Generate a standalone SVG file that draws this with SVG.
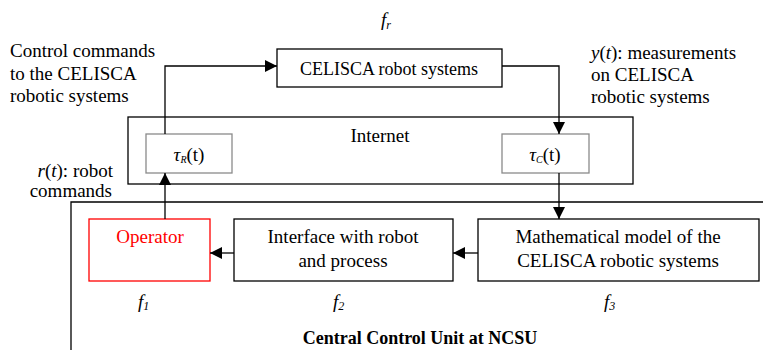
<svg xmlns="http://www.w3.org/2000/svg" width="763" height="350" viewBox="0 0 763 350">
<defs>
<marker id="ah" markerWidth="12" markerHeight="12" viewBox="0 0 12 12" refX="12" refY="6" orient="auto" markerUnits="userSpaceOnUse">
<path d="M0,0 L12,6 L0,12 Z" fill="#000"/>
</marker>
</defs>
<style>
text{font-family:Liberation Serif,Tinos,Times New Roman,DejaVu Serif,serif;font-size:19px;fill:#000}
.c{text-anchor:middle}
.i{font-style:italic}
.box{fill:#fff;stroke:#000;stroke-width:1.3}
.gbox{fill:#fff;stroke:#8a8a8a;stroke-width:1.3}
.ln{fill:none;stroke:#000;stroke-width:1.3}
</style>
<g id="central-control-unit">
<path class="ln" d="M71,350 V202 H763"/>
<text x="420" y="344" class="c" style="font-weight:bold;font-size:18px">Central Control Unit at NCSU</text>
</g>
<g id="internet">
<rect class="box" x="128" y="117" width="505" height="67"/>
<text x="380" y="142" class="c">Internet</text>
</g>
<g id="celisca">
<rect class="box" x="277" y="49" width="225" height="38"/>
<text x="389" y="75" class="c" style="font-size:18px">CELISCA robot systems</text>
<text x="381" y="26" class="i">f<tspan font-size="12" dy="3">r</tspan></text>
</g>
<g id="tau-r">
<rect class="gbox" x="146" y="134" width="86" height="39"/>
<text x="189" y="161" class="c"><tspan class="i">τ</tspan><tspan class="i" font-size="10" dy="2">R</tspan><tspan dy="-2">(t)</tspan></text>
</g>
<g id="tau-c">
<rect class="gbox" x="502" y="134" width="87" height="39"/>
<text x="545" y="161" class="c"><tspan class="i">τ</tspan><tspan class="i" font-size="10" dy="2">C</tspan><tspan dy="-2">(t)</tspan></text>
</g>
<g id="operator">
<rect x="89" y="219" width="121" height="62" fill="#fff" stroke="#ff0000" stroke-width="1.3"/>
<text x="150" y="243" class="c" style="fill:#ff0000">Operator</text>
<text x="138" y="308" class="i">f<tspan font-size="12" dy="2">1</tspan></text>
</g>
<g id="interface">
<rect class="box" x="234" y="219" width="219" height="62"/>
<text x="343" y="243" class="c">Interface with robot</text>
<text x="343" y="267" class="c">and process</text>
<text x="333" y="308" class="i">f<tspan font-size="12" dy="2">2</tspan></text>
</g>
<g id="model">
<rect class="box" x="478" y="219" width="281" height="62"/>
<text x="618" y="243" class="c">Mathematical model of the</text>
<text x="618" y="267" class="c">CELISCA robotic systems</text>
<text x="604" y="308" class="i">f<tspan font-size="12" dy="2">3</tspan></text>
</g>
<g id="labels">
<text x="10" y="57">Control commands</text>
<text x="10" y="80">to the CELISCA</text>
<text x="10" y="102">robotic systems</text>
<text x="591" y="59"><tspan class="i">y</tspan>(<tspan class="i">t</tspan>): measurements</text>
<text x="591" y="81">on CELISCA</text>
<text x="591" y="103">robotic systems</text>
<text x="113" y="177" style="text-anchor:end"><tspan class="i">r</tspan>(<tspan class="i">t</tspan>): robot</text>
<text x="112" y="197" style="text-anchor:end">commands</text>
</g>
<g id="connectors">
<path class="ln" d="M165,134 V66 H277" marker-end="url(#ah)"/>
<path class="ln" d="M502,66 H559 V134" marker-end="url(#ah)"/>
<path class="ln" d="M559,173 V219" marker-end="url(#ah)"/>
<path class="ln" d="M478,253 H453" marker-end="url(#ah)"/>
<path class="ln" d="M234,253 H210" marker-end="url(#ah)"/>
<path class="ln" d="M165,219 V173" marker-end="url(#ah)"/>
</g>
</svg>
